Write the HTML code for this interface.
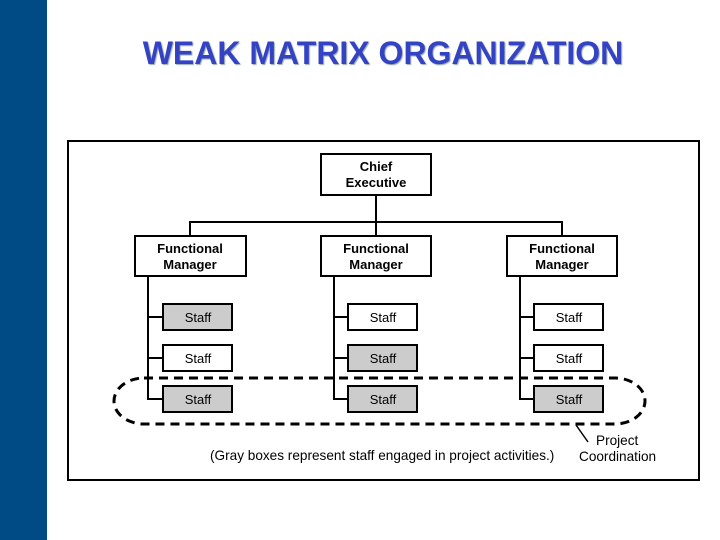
<!DOCTYPE html>
<html><head><style>
body{margin:0;width:720px;height:540px;background:#fff;position:relative;overflow:hidden;font-family:"Liberation Sans",sans-serif}
#bar{position:absolute;left:0;top:0;width:47px;height:540px;background:#004b85}
#t{position:absolute;left:0;width:766px;top:35px;text-align:center;font-size:32px;font-weight:bold;color:#3343c4;text-shadow:1px 1px 1px #9aa}
</style></head><body>
<div id="bar"></div>
<div id="t">WEAK MATRIX ORGANIZATION</div>
<svg style="position:absolute;left:0;top:0" width="720" height="540" font-family="Liberation Sans, sans-serif">
<rect x="68" y="141" width="631" height="339" fill="#fff" stroke="#000" stroke-width="2"/>
<g stroke="#000" stroke-width="2" fill="#fff">
<line x1="376" y1="195" x2="376" y2="236"/>
<polyline points="190,236 190,222 562,222 562,236" fill="none"/>
<rect x="321" y="154" width="110" height="41"/>
<rect x="135" y="236" width="111" height="40"/>
<rect x="321" y="236" width="110" height="40"/>
<rect x="507" y="236" width="110" height="40"/>
<polyline points="148,276 148,399 163,399" fill="none"/>
<line x1="148" y1="317" x2="163" y2="317"/><line x1="148" y1="358" x2="163" y2="358"/>
<polyline points="334,276 334,399 348,399" fill="none"/>
<line x1="334" y1="317" x2="348" y2="317"/><line x1="334" y1="358" x2="348" y2="358"/>
<polyline points="520,276 520,399 534,399" fill="none"/>
<line x1="520" y1="317" x2="534" y2="317"/><line x1="520" y1="358" x2="534" y2="358"/>
<rect x="163" y="304" width="69" height="26" fill="#ccc"/>
<rect x="163" y="345" width="69" height="26"/>
<rect x="163" y="386" width="69" height="26" fill="#ccc"/>
<rect x="348" y="304" width="69" height="26"/>
<rect x="348" y="345" width="69" height="26" fill="#ccc"/>
<rect x="348" y="386" width="69" height="26" fill="#ccc"/>
<rect x="534" y="304" width="69" height="26"/>
<rect x="534" y="345" width="69" height="26"/>
<rect x="534" y="386" width="69" height="26" fill="#ccc"/>
</g>
<rect x="114" y="378" width="531" height="46" rx="30" ry="23" fill="none" stroke="#000" stroke-width="3" stroke-dasharray="9,6"/>
<line x1="576" y1="425" x2="588" y2="442" stroke="#000" stroke-width="1.5"/>
<g font-size="13" font-weight="bold" text-anchor="middle">
<text x="376" y="171">Chief</text><text x="376" y="187">Executive</text>
<text x="190" y="253">Functional</text><text x="190" y="269">Manager</text>
<text x="376" y="253">Functional</text><text x="376" y="269">Manager</text>
<text x="562" y="253">Functional</text><text x="562" y="269">Manager</text>
</g>
<g font-size="13" text-anchor="middle">
<text x="198" y="322">Staff</text><text x="198" y="363">Staff</text><text x="198" y="404">Staff</text>
<text x="383" y="322">Staff</text><text x="383" y="363">Staff</text><text x="383" y="404">Staff</text>
<text x="569" y="322">Staff</text><text x="569" y="363">Staff</text><text x="569" y="404">Staff</text>
</g>
<g font-size="13.6">
<text x="210" y="460">(Gray boxes represent staff engaged in project activities.)</text>
<text x="596" y="445">Project</text>
<text x="579" y="461">Coordination</text>
</g>
</svg>
</body></html>
